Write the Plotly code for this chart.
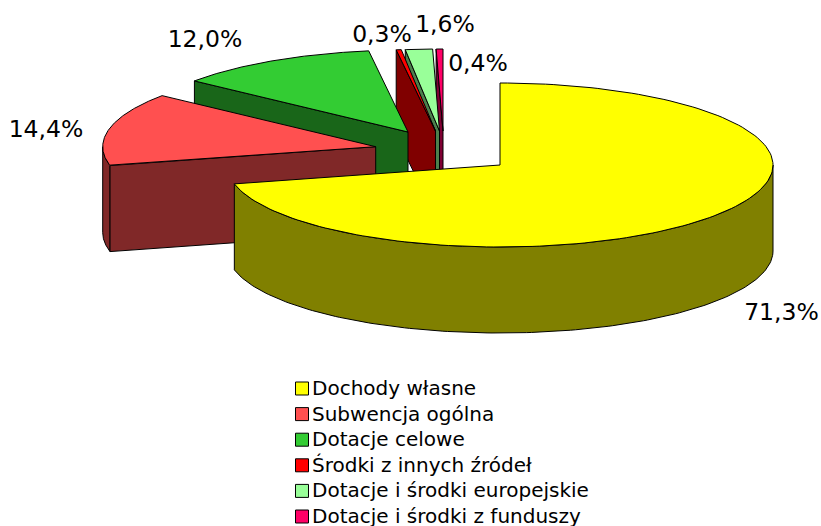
import math
import plotly.graph_objects as go

# --- data ---
categories = ["Dochody własne", "Subwencja ogólna", "Dotacje celowe",
              "Środki z innych źródeł", "Dotacje i środki europejskie",
              "Dotacje i środki z funduszy"]
shares = [71.3, 14.4, 12.0, 0.3, 1.6, 0.4]
top_colors = ["#FFFF00", "#FF5050", "#33CC33", "#FF0000", "#99FF99", "#FF0066"]
wall_colors = ["#808000", "#802828", "#196619", "#800000", "#4C804C", "#800033"]

# --- layout (pixel-like axis units) ---
W, H = 821, 526
RX, RY, DEPTH = 273, 82, 86
apexes = [(500, 165), (375.7, 146.7), (408, 132), (435.5, 131), (439.5, 131), (443, 131)]
label_pos = [(781.5, 314), (46, 131), (205, 41), (382, 36), (445, 26), (478, 65)]
legend_x, legend_text_x, legend_y0, legend_dy = 302, 312, 388.5, 25.6
FONT = "DejaVu Sans"


def pt(apex, theta):
    t = math.radians(theta)
    return apex[0] + RX * math.sin(t), apex[1] - RY * math.cos(t)


def arc(apex, a, b, n=160):
    return [pt(apex, a + (b - a) * i / n) for i in range(n + 1)]


fig = go.Figure()


def poly(points, fill, name):
    xs = [p[0] for p in points] + [points[0][0]]
    ys = [p[1] for p in points] + [points[0][1]]
    fig.add_trace(go.Scatter(x=xs, y=ys, mode="lines", fill="toself", fillcolor=fill,
                             line=dict(color="#000000", width=1), name=name,
                             hoverinfo="name", showlegend=False))


bounds = []
acc = 0.0
total = sum(shares)
for s in shares:
    bounds.append((acc / total * 360, (acc + s) / total * 360))
    acc += s

for i in reversed(range(len(shares))):
    a, b = bounds[i]
    apex = apexes[i]
    # outer wall: only the front half of the rim faces the viewer
    fa, fb = max(a, 90), min(b, 270)
    if fb > fa:
        rim = arc(apex, fa, fb)
        poly(rim + [(x, y + DEPTH) for x, y in reversed(rim)], wall_colors[i], categories[i])
    # radial walls
    for theta, visible in ((a, math.sin(math.radians(a)) < -1e-9),
                           (b, math.sin(math.radians(b)) > 1e-9)):
        if visible:
            p = pt(apex, theta)
            poly([apex, p, (p[0], p[1] + DEPTH), (apex[0], apex[1] + DEPTH)],
                 wall_colors[i], categories[i])
    # top face
    poly([apex] + arc(apex, a, b), top_colors[i], categories[i])

# percentage labels
fig.add_trace(go.Scatter(
    x=[p[0] for p in label_pos], y=[p[1] for p in label_pos], mode="text",
    text=[f"{s:.1f}%".replace(".", ",") for s in shares],
    textposition="middle center", textfont=dict(family=FONT, size=23.5, color="#000000"),
    hoverinfo="skip", showlegend=False, cliponaxis=False))

# legend swatches and texts
legend_rows = [legend_y0 + legend_dy * i for i in range(len(categories))]
fig.add_trace(go.Scatter(
    x=[legend_x] * len(categories), y=legend_rows, mode="markers",
    marker=dict(symbol="square", size=13, color=top_colors, line=dict(color="#000000", width=1)),
    hoverinfo="skip", showlegend=False, cliponaxis=False))
fig.add_trace(go.Scatter(
    x=[legend_text_x] * len(categories), y=[r + 1.5 for r in legend_rows], mode="text",
    text=categories, textposition="middle right",
    textfont=dict(family=FONT, size=20, color="#000000"),
    hoverinfo="skip", showlegend=False, cliponaxis=False))

fig.update_layout(
    width=W, height=H, margin=dict(l=0, r=0, t=0, b=0),
    paper_bgcolor="#FFFFFF", plot_bgcolor="#FFFFFF", showlegend=False,
    xaxis=dict(range=[0, W], visible=False, fixedrange=True),
    yaxis=dict(range=[H, 0], visible=False, fixedrange=True),
)
fig.write_html("out.html", config={"displayModeBar": False},
               post_script="document.body.style.margin='0';document.body.style.overflow='hidden';")
